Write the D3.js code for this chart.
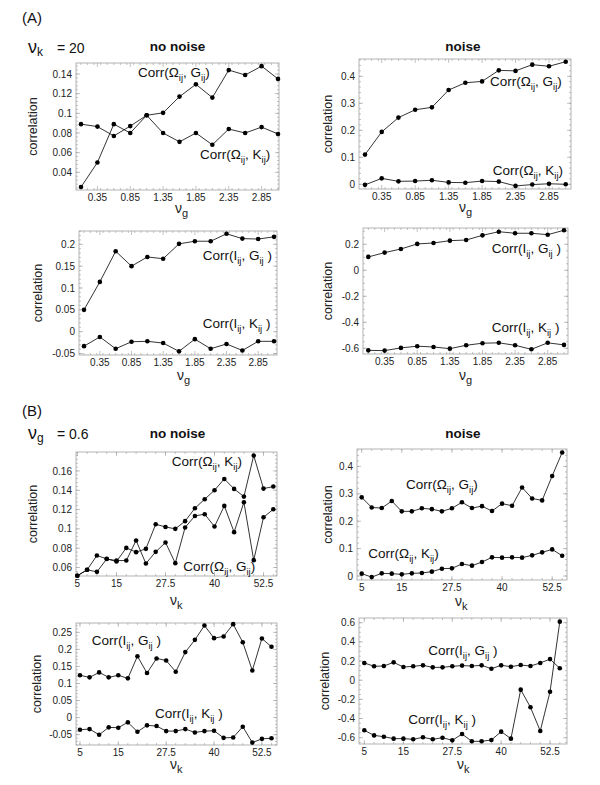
<!DOCTYPE html>
<html><head><meta charset="utf-8">
<script src="https://cdn.jsdelivr.net/npm/d3@7"></script>
<style>body{margin:0;background:#fff} text{font-family:"Liberation Sans",Arial,Helvetica,sans-serif}</style>
</head><body><svg id="c" width="600" height="785"></svg>
<script>
// ---------- data ----------
const nuG = [0.1, 0.35, 0.6, 0.85, 1.1, 1.35, 1.6, 1.85, 2.1, 2.35, 2.6, 2.85, 3.1];
const nuK = [5, 7.5, 10, 12.5, 15, 17.5, 20, 22.5, 25, 27.5, 30, 32.5, 35, 37.5, 40, 42.5, 45, 47.5, 50, 52.5, 55];
const xTicksA = [0.35, 0.85, 1.35, 1.85, 2.35, 2.85];
const xTicksB = [5, 15, 27.5, 40, 52.5];

// (A) nu_k = 20
const a1OmegaG = [0.025, 0.050, 0.089, 0.080, 0.098, 0.1005, 0.117, 0.1295, 0.116, 0.144, 0.139, 0.148, 0.135];
const a1OmegaK = [0.089, 0.0865, 0.077, 0.087, 0.098, 0.080, 0.071, 0.080, 0.068, 0.084, 0.080, 0.086, 0.079];
const a2OmegaG = [0.110, 0.194, 0.247, 0.276, 0.285, 0.349, 0.376, 0.381, 0.422, 0.420, 0.443, 0.437, 0.454];
const a2OmegaK = [-0.002, 0.022, 0.011, 0.012, 0.015, 0.007, 0.006, 0.012, 0.010, -0.006, -0.001, 0.002, 0.000];
const a3IG = [0.050, 0.114, 0.184, 0.150, 0.171, 0.167, 0.201, 0.207, 0.207, 0.224, 0.213, 0.212, 0.217];
const a3IK = [-0.033, -0.012, -0.039, -0.023, -0.022, -0.026, -0.045, -0.017, -0.039, -0.028, -0.043, -0.022, -0.022];
const a4IG = [0.103, 0.136, 0.164, 0.203, 0.210, 0.228, 0.233, 0.269, 0.297, 0.285, 0.285, 0.274, 0.308];
const a4IK = [-0.616, -0.618, -0.597, -0.584, -0.590, -0.603, -0.577, -0.561, -0.558, -0.577, -0.608, -0.558, -0.574];

// (B) nu_g = 0.6
const b1OmegaK = [0.0514, 0.0576, 0.0724, 0.0690, 0.0662, 0.0803, 0.0759, 0.0793, 0.1048, 0.1020, 0.1000, 0.1080, 0.1214, 0.1307, 0.1400, 0.1517, 0.1414, 0.1334, 0.1759, 0.1417, 0.1438];
const b1OmegaG = [0.0514, 0.0576, 0.0555, 0.0688, 0.0672, 0.0672, 0.0880, 0.0641, 0.0762, 0.0859, 0.0645, 0.1014, 0.1134, 0.1152, 0.1024, 0.1238, 0.0966, 0.1276, 0.0676, 0.1120, 0.1203];
const b2OmegaG = [0.287, 0.250, 0.248, 0.2735, 0.236, 0.236, 0.247, 0.244, 0.236, 0.247, 0.269, 0.248, 0.255, 0.237, 0.264, 0.2565, 0.323, 0.283, 0.276, 0.365, 0.451];
const b2OmegaK = [0.0085, -0.004, 0.0097, 0.0085, 0.006, 0.0097, 0.011, 0.0158, 0.0267, 0.028, 0.0438, 0.0377, 0.051, 0.068, 0.0669, 0.068, 0.0669, 0.0754, 0.0863, 0.097, 0.074];
const b3IG = [0.124, 0.118, 0.1325, 0.118, 0.124, 0.115, 0.180, 0.1306, 0.1735, 0.1676, 0.1345, 0.192, 0.228, 0.270, 0.233, 0.238, 0.274, 0.221, 0.138, 0.232, 0.2076];
const b3IK = [-0.0356, -0.0337, -0.0505, -0.0287, -0.0297, -0.0139, -0.0416, -0.0228, -0.0248, -0.0396, -0.0396, -0.0337, -0.0436, -0.0396, -0.0386, -0.0594, -0.0584, -0.0267, -0.0733, -0.0624, -0.0604];
const b4IG = [0.180, 0.145, 0.148, 0.186, 0.137, 0.145, 0.155, 0.134, 0.134, 0.145, 0.152, 0.148, 0.155, 0.120, 0.155, 0.141, 0.158, 0.148, 0.180, 0.220, 0.124];
const b4IK = [-0.523, -0.576, -0.590, -0.610, -0.610, -0.617, -0.596, -0.617, -0.600, -0.628, -0.562, -0.638, -0.638, -0.624, -0.537, -0.610, -0.099, -0.283, -0.530, -0.120, 0.611];

const yTicksA1 = [0.04, 0.06, 0.08, 0.1, 0.12, 0.14];
const yTicksA2 = [0, 0.1, 0.2, 0.3, 0.4];
const yTicksA3 = [-0.05, 0, 0.05, 0.1, 0.15, 0.2];
const yTicksA4 = [-0.6, -0.4, -0.2, 0, 0.2];
const yTicksB1 = [0.06, 0.08, 0.1, 0.12, 0.14, 0.16];
const yTicksB2 = [0, 0.1, 0.2, 0.3, 0.4];
const yTicksB3 = [-0.05, 0, 0.05, 0.1, 0.15, 0.2, 0.25];
const yTicksB4 = [-0.6, -0.4, -0.2, 0, 0.2, 0.4, 0.6];

// ---------- layout ----------
const panels = [
 {f:[76,279,63,190], xd:[0.0239,3.115], yd:[0.022,0.1512], xs:nuG, xt:xTicksA, yt:yTicksA1, ym:0.004, xm:0.1,
  series:[a1OmegaG,a1OmegaK], lab:[["Ω","G",0.968,0.137],["Ω","K",1.912,0.0535]], yl:33, xl:[175,213,"g"]},
 {f:[359,571,59,189], xd:[0.0103,3.179], yd:[-0.0174,0.464], xs:nuG, xt:xTicksA, yt:yTicksA2, ym:0.02, xm:0.1,
  series:[a2OmegaG,a2OmegaK], lab:[["Ω","G",1.968,0.364],["Ω","K",2.009,0.0344]], yl:328, xl:[459,212,"g"]},
 {f:[79,277,231,355], xd:[0.021,3.147], yd:[-0.0533,0.2304], xs:nuG, xt:xTicksA, yt:yTicksA3, ym:0.01, xm:0.1,
  series:[a3IG,a3IK], lab:[["I","G",1.974,0.164],["I","K",1.974,0.0078]], yl:38, xl:[177,380,"g"]},
 {f:[363,568,228,354], xd:[0.0187,3.161], yd:[-0.644,0.3254], xs:nuG, xt:xTicksA, yt:yTicksA4, ym:0.05, xm:0.1,
  series:[a4IG,a4IK], lab:[["I","G",1.992,0.135],["I","K",1.992,-0.472]], yl:328, xl:[459,380,"g"]},
 {f:[76,277,452,576], xd:[4.67,55.94], yd:[0.0512,0.1796], xs:nuK, xt:xTicksB, yt:yTicksB1, ym:0.004, xm:2.5,
  series:[b1OmegaK,b1OmegaG], lab:[["Ω","K",29.08,0.165],["Ω","G",32.04,0.0559]], yl:33, xl:[170,605,"k"]},
 {f:[357,567,449,580], xd:[3.83,56.2], yd:[-0.0146,0.4635], xs:nuK, xt:xTicksB, yt:yTicksB2, ym:0.02, xm:2.5,
  series:[b2OmegaG,b2OmegaK], lab:[["Ω","G",16.05,0.3175],["Ω","K",6.65,0.0646]], yl:328, xl:[455,606,"k"]},
 {f:[76,277,623,745], xd:[3.96,56.44], yd:[-0.0804,0.2774], xs:nuK, xt:xTicksB, yt:yTicksB3, ym:0.01, xm:2.5,
  series:[b3IG,b3IK], lab:[["I","G",8.05,0.213],["I","K",24.58,-0.002]], yl:37, xl:[170,769,"k"]},
 {f:[359,567,618,744], xd:[3.64,56.84], yd:[-0.666,0.649], xs:nuK, xt:xTicksB, yt:yTicksB4, ym:0.05, xm:2.5,
  series:[b4IG,b4IK], lab:[["I","G",21.37,0.263],["I","K",16.25,-0.46]], yl:325, xl:[457,769,"k"]}
];

const svg = d3.select("#c");
const fmt = v => String(+v.toFixed(4));

function drawPanel(p) {
  const [l, r, t, b] = p.f;
  const x = d3.scaleLinear().domain(p.xd).range([l, r]);
  const y = d3.scaleLinear().domain(p.yd).range([b, t]);
  const g = svg.append("g");
  // minor ticks
  const yMinor = d3.range(Math.ceil(p.yd[0]/p.ym), Math.floor(p.yd[1]/p.ym)+1).map(k => k*p.ym);
  const xMinor = d3.range(Math.ceil(p.xd[0]/p.xm), Math.floor(p.xd[1]/p.xm)+1).map(k => k*p.xm);
  const tk = g.append("g").attr("stroke", "#9a9a9a").attr("stroke-width", 0.6);
  yMinor.forEach(v => {
    const yy = y(v);
    tk.append("line").attr("x1", l).attr("x2", l+2).attr("y1", yy).attr("y2", yy);
    tk.append("line").attr("x1", r).attr("x2", r-2).attr("y1", yy).attr("y2", yy);
  });
  xMinor.forEach(v => {
    const xx = x(v);
    tk.append("line").attr("y1", b).attr("y2", b-2).attr("x1", xx).attr("x2", xx);
    tk.append("line").attr("y1", t).attr("y2", t+2).attr("x1", xx).attr("x2", xx);
  });
  p.yt.forEach(v => {
    const yy = y(v);
    tk.append("line").attr("x1", l).attr("x2", l+4).attr("y1", yy).attr("y2", yy);
    tk.append("line").attr("x1", r).attr("x2", r-4).attr("y1", yy).attr("y2", yy);
  });
  p.xt.forEach(v => {
    const xx = x(v);
    tk.append("line").attr("y1", b).attr("y2", b-4).attr("x1", xx).attr("x2", xx);
    tk.append("line").attr("y1", t).attr("y2", t+4).attr("x1", xx).attr("x2", xx);
  });
  g.append("rect").attr("x", l).attr("y", t).attr("width", r-l).attr("height", b-t)
    .attr("fill", "none").attr("stroke", "#a0a0a0").attr("stroke-width", 0.8);
  // tick labels
  p.yt.forEach(v => {
    g.append("text").attr("x", l-4).attr("y", y(v)+3.6).attr("text-anchor", "end")
      .attr("font-size", 10).attr("fill", "#222").text(fmt(v));
  });
  p.xt.forEach(v => {
    g.append("text").attr("x", x(v)).attr("y", b+10.5).attr("text-anchor", "middle")
      .attr("font-size", 10).attr("fill", "#222").text(fmt(v));
  });
  // y label
  g.append("text").attr("transform", `translate(${p.yl},${(t+b)/2}) rotate(-90)`)
    .attr("text-anchor", "middle").attr("dy", "0.35em").attr("font-size", 12.5).attr("fill", "#222").text("correlation");
  // x label
  const xl = g.append("text").attr("x", p.xl[0]).attr("y", p.xl[1]).attr("fill", "#222");
  xl.append("tspan").attr("font-size", 14).text("ν");
  xl.append("tspan").attr("font-size", 11).attr("dy", 4).text(p.xl[2]);
  // series
  const line = d3.line().x((d, i) => x(p.xs[i])).y(d => y(d));
  p.series.forEach(s => {
    g.append("path").attr("d", line(s)).attr("fill", "none").attr("stroke", "#000").attr("stroke-width", 0.8);
    g.selectAll(null).data(s).enter().append("circle")
      .attr("cx", (d, i) => x(p.xs[i])).attr("cy", d => y(d)).attr("r", 2.3).attr("fill", "#000");
  });
  // curve labels
  p.lab.forEach(([a, c, lx, ly]) => {
    const tx = g.append("text").attr("x", x(lx)).attr("y", y(ly)).attr("font-size", 13.5).attr("fill", "#111");
    const close = a === "I" ? " )" : ")";
    tx.append("tspan").text("Corr(" + a);
    tx.append("tspan").attr("font-size", 9.5).attr("dy", 4).text("ij");
    tx.append("tspan").attr("dy", -4).text(", " + c);
    tx.append("tspan").attr("font-size", 9.5).attr("dy", 4).text("ij");
    tx.append("tspan").attr("dy", -4).text(close);
  });
}
panels.forEach(drawPanel);

// headers
function header(lbl, ly, sub, val, by) {
  svg.append("text").attr("x", 22).attr("y", ly).attr("font-size", 15).attr("fill", "#111").text(lbl);
  const h = svg.append("text").attr("x", 28).attr("y", by).attr("fill", "#111");
  h.append("tspan").attr("font-size", 18).text("ν");
  h.append("tspan").attr("font-size", 12).attr("dy", 3).text(sub);
  h.append("tspan").attr("font-size", 14).attr("dy", -3).attr("x", 57).text("= " + val);
}
header("(A)", 23, "k", "20", 53);
header("(B)", 416, "g", "0.6", 439);
[[177.5, 51, "no noise"], [463, 51, "noise"], [177.5, 438, "no noise"], [463, 438, "noise"]].forEach(([cx, cy, s]) => {
  svg.append("text").attr("x", cx).attr("y", cy).attr("text-anchor", "middle").attr("font-size", 13.5)
    .attr("font-weight", "bold").attr("fill", "#111").text(s);
});
</script></body></html>
